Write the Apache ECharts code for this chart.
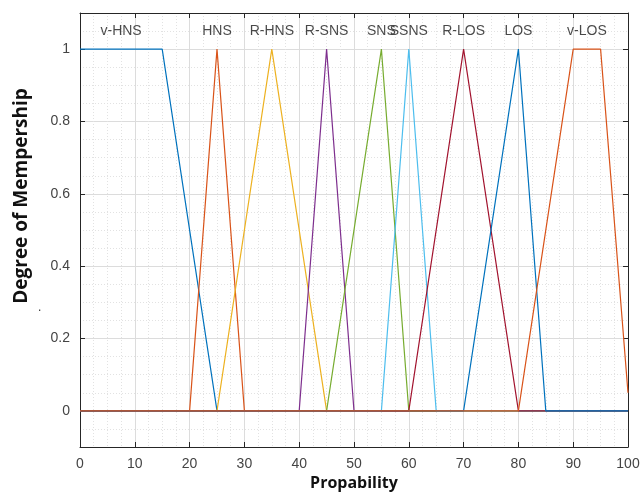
<!DOCTYPE html>
<html>
<head>
<meta charset="utf-8">
<script src="https://cdn.jsdelivr.net/npm/echarts@6/dist/echarts.min.js"></script>
<style>
  html, body { margin: 0; padding: 0; background: #fff; }
  #chart { width: 643px; height: 498px; }
</style>
</head>
<body>
<div id="chart"></div>
<script>
// membership functions, [x, degree] breakpoints
const vHNS = [[0, 1], [15, 1], [25, 0], [100, 0]];
const HNS = [[0, 0], [20, 0], [25, 1], [30, 0], [100, 0]];
const rHNS = [[0, 0], [25, 0], [35, 1], [45, 0], [100, 0]];
const rSNS = [[0, 0], [40, 0], [45, 1], [50, 0], [100, 0]];
const SNS = [[0, 0], [45, 0], [55, 1], [60, 0], [100, 0]];
const SSNS = [[0, 0], [55, 0], [60, 1], [65, 0], [100, 0]];
const rLOS = [[0, 0], [60, 0], [70, 1], [80, 0], [100, 0]];
const LOS = [[0, 0], [70, 0], [80, 1], [85, 0], [100, 0]];
const vLOS = [[0, 0], [80, 0], [90, 1], [95, 1], [100, 0.05]];

const setNames = ['v-HNS', 'HNS', 'R-HNS', 'R-SNS', 'SNS', 'SSNS', 'R-LOS', 'LOS', 'v-LOS'];
const setData = [vHNS, HNS, rHNS, rSNS, SNS, SSNS, rLOS, LOS, vLOS];
const setColors = ['#0072BD', '#D95319', '#EDB120', '#7E2F8E', '#77AC30', '#4DBEEE', '#A2142F', '#0072BD', '#D95319'];

// text labels above the peaks
const labelX = [7.5, 25, 35, 45, 55, 60, 70, 80, 92.5];
const labelY = 1.05;

// y tick labels
const yTicks = [0, 0.2, 0.4, 0.6, 0.8, 1];

const chart = echarts.init(document.getElementById('chart'));

const frame = { show: true, onZero: false, lineStyle: { color: '#262626', width: 1 } };
const innerTick = { show: true, inside: true, length: 5, lineStyle: { color: '#262626' } };
const minorGrid = { show: true, lineStyle: { color: '#e2e2e2', type: [1, 2] } };
const majorGrid = { show: true, lineStyle: { color: '#dcdcdc' } };

let series = [];
for (let i = 0; i < setData.length; i++) {
  series.push({
    name: setNames[i],
    type: 'line',
    data: setData[i],
    symbol: 'none',
    lineStyle: { color: setColors[i], width: 1.2 },
    z: 3 + i
  });
}
series.push({
  type: 'scatter',
  symbolSize: 0,
  data: setNames.map((n, i) => ({ value: [labelX[i], labelY], name: n })),
  label: {
    show: true,
    position: 'inside',
    formatter: p => p.name,
    color: '#1a1a1a',
    fontFamily: 'Liberation Sans',
    fontSize: 14
  },
  z: 20
});

const option = {
  animation: false,
  grid: { left: 80, right: 15, top: 13, bottom: 51 },
  xAxis: [{
    type: 'value',
    min: 0, max: 100, interval: 10,
    name: 'Propability',
    nameLocation: 'middle',
    nameGap: 27,
    nameTextStyle: { fontFamily: 'Open Sans', fontWeight: 'bold', fontSize: 16, color: '#111' },
    axisLine: frame,
    axisTick: innerTick,
    axisLabel: { color: '#444', fontFamily: 'Liberation Sans', fontSize: 14, margin: 10 },
    splitLine: majorGrid,
    minorTick: { show: false, splitNumber: 4 },
    minorSplitLine: minorGrid,
    z: 2
  }, {
    type: 'value', position: 'top',
    min: 0, max: 100, interval: 10,
    axisLine: frame, axisTick: innerTick,
    axisLabel: { show: false }, splitLine: { show: false },
    z: 3
  }],
  yAxis: [{
    type: 'value',
    min: -0.1, max: 1.1, interval: 0.05,
    axisLine: frame,
    axisTick: Object.assign({ customValues: yTicks }, innerTick),
    axisLabel: {
      customValues: yTicks,
      color: '#444', fontFamily: 'Liberation Sans', fontSize: 14, margin: 10
    },
    splitLine: majorGrid,
    z: 2
  }, {
    type: 'value', position: 'right',
    min: -0.1, max: 1.1, interval: 0.05,
    axisLine: frame,
    axisTick: Object.assign({ customValues: yTicks }, innerTick),
    axisLabel: { show: false }, splitLine: { show: false },
    z: 3
  }, {
    // minor dotted grid
    type: 'value', position: 'left',
    min: -0.1, max: 1.1, interval: 0.05,
    axisLine: { show: false }, axisTick: { show: false },
    axisLabel: { show: false },
    splitLine: minorGrid,
    z: 1
  }],
  graphic: [{
    type: 'text',
    x: 22, y: 196,
    rotation: Math.PI / 2,
    style: {
      text: 'Degree of Mempership',
      fontFamily: 'Open Sans', fontWeight: 'bold', fontSize: 19, fill: '#111',
      align: 'center', verticalAlign: 'middle'
    }
  }, {
    type: 'text', x: 38, y: 302,
    style: { text: '.', fontSize: 12, fill: '#333' }
  }],
  series: series
};

chart.setOption(option);
</script>
</body>
</html>
